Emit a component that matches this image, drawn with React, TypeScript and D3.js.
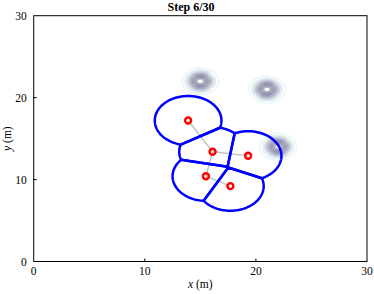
import { useRef, useEffect } from 'react';
import * as d3 from 'd3';

// agent positions (m)
const agentX = [13.9, 16.1, 19.3, 15.5, 17.7];
const agentY = [17.2, 13.4, 12.9, 10.4, 9.2];
// communication links between agents
const links: [number, number][] = [
  [0, 1],
  [1, 2],
  [1, 3],
  [3, 4],
];
// density peaks (m)
const peakX = [15, 21, 22];
const peakY = [22, 21, 14];
const peakSigma = 0.62;
const sensingRadius = 3;
const xTicks = [0, 10, 20, 30];
const yTicks = [0, 10, 20, 30];
const title = 'Step 6/30';

const W = 374;
const H = 294;
const serif = 'Liberation Serif, serif';

function clipCircleToCell(cx: number, cy: number, r: number, cell: [number, number][]) {
  let poly: [number, number][] = d3.range(180).map((k) => {
    const a = (k / 180) * Math.PI * 2;
    return [cx + r * Math.cos(a), cy + r * Math.sin(a)];
  });
  for (let e = 0; e < cell.length - 1; e++) {
    const a = cell[e];
    const b = cell[e + 1];
    const side = (p: [number, number]) => (b[0] - a[0]) * (p[1] - a[1]) - (b[1] - a[1]) * (p[0] - a[0]);
    const s0 = side([cx, cy]);
    const inside = (p: [number, number]) => side(p) * s0 >= 0;
    const out: [number, number][] = [];
    for (let i = 0; i < poly.length; i++) {
      const cur = poly[i];
      const prev = poly[(i + poly.length - 1) % poly.length];
      const ci = inside(cur);
      const pi = inside(prev);
      if (ci !== pi) {
        const sp = side(prev);
        const sc = side(cur);
        const t = sp / (sp - sc);
        out.push([prev[0] + t * (cur[0] - prev[0]), prev[1] + t * (cur[1] - prev[1])]);
      }
      if (ci) out.push(cur);
    }
    poly = out;
  }
  return poly;
}

export default function App() {
  const ref = useRef<SVGSVGElement>(null);

  useEffect(() => {
    document.body.style.margin = '0';
    const svg = d3.select(ref.current);
    svg.selectAll('*').remove();

    const x = d3.scaleLinear().domain([0, 30]).range([33.7, 367]);
    const y = d3.scaleLinear().domain([0, 30]).range([261.5, 15.7]);

    // frame
    svg
      .append('rect')
      .attr('x', x(0))
      .attr('y', y(30))
      .attr('width', x(30) - x(0))
      .attr('height', y(0) - y(30))
      .attr('fill', 'white')
      .attr('stroke', 'black')
      .attr('stroke-width', 1);

    // density contours
    const step = 0.05;
    const n = Math.round(30 / step) + 1;
    const values = new Array(n * n);
    for (let j = 0; j < n; j++) {
      for (let i = 0; i < n; i++) {
        const px = i * step;
        const py = j * step;
        let v = 0;
        for (let k = 0; k < peakX.length; k++) {
          const dx = px - peakX[k];
          const dy = py - peakY[k];
          v += Math.exp(-(dx * dx + dy * dy) / (2 * peakSigma * peakSigma));
        }
        values[j * n + i] = v;
      }
    }
    const levels = d3.range(0.03, 0.95, 0.055);
    const color = d3
      .scaleLinear<string>()
      .domain([0.03, 0.3, 0.6, 0.95])
      .range(['#d6f0f0', '#a8aac4', '#8a8aa8', '#9a9ab4']);
    const contours = d3.contours().size([n, n]).thresholds(levels)(values);
    const proj = d3.geoTransform({
      point(gx: number, gy: number) {
        this.stream.point(x((gx - 0.5) * step), y((gy - 0.5) * step));
      },
    });
    const cpath = d3.geoPath(proj);
    svg
      .append('g')
      .selectAll('path')
      .data(contours)
      .join('path')
      .attr('d', (d) => cpath(d as any))
      .attr('fill', 'none')
      .attr('stroke', (d) => color(d.value))
      .attr('stroke-width', 1);

    // links
    svg
      .append('g')
      .selectAll('line')
      .data(links)
      .join('line')
      .attr('x1', (d) => x(agentX[d[0]]))
      .attr('y1', (d) => y(agentY[d[0]]))
      .attr('x2', (d) => x(agentX[d[1]]))
      .attr('y2', (d) => y(agentY[d[1]]))
      .attr('stroke', '#c4c4c4')
      .attr('stroke-width', 1.5);

    // voronoi cells limited by sensing radius
    const pts = agentX.map((ax, i) => [ax, agentY[i]] as [number, number]);
    const vor = d3.Delaunay.from(pts).voronoi([0, 0, 30, 30]);
    const line = d3
      .line<[number, number]>()
      .x((d) => x(d[0]))
      .y((d) => y(d[1]))
      .curve(d3.curveLinearClosed);
    svg
      .append('g')
      .selectAll('path')
      .data(pts)
      .join('path')
      .attr('d', (p, i) => line(clipCircleToCell(p[0], p[1], sensingRadius, vor.cellPolygon(i) as any)))
      .attr('fill', 'none')
      .attr('stroke', '#0000ff')
      .attr('stroke-width', 2.5)
      .attr('stroke-linejoin', 'round');

    // agents
    svg
      .append('g')
      .selectAll('circle')
      .data(pts)
      .join('circle')
      .attr('cx', (d) => x(d[0]))
      .attr('cy', (d) => y(d[1]))
      .attr('r', 3)
      .attr('fill', 'none')
      .attr('stroke', '#ff0000')
      .attr('stroke-width', 2.4);

    // ticks
    const tg = svg.append('g').attr('stroke', 'black').attr('stroke-width', 1);
    xTicks.slice(1, -1).forEach((t) => {
      tg.append('line').attr('x1', x(t)).attr('x2', x(t)).attr('y1', y(0)).attr('y2', y(0) - 3);
    });
    yTicks.slice(1, -1).forEach((t) => {
      tg.append('line').attr('x1', x(0)).attr('x2', x(0) + 3).attr('y1', y(t)).attr('y2', y(t));
    });

    svg
      .append('g')
      .selectAll('text')
      .data(xTicks)
      .join('text')
      .attr('x', (d) => x(d))
      .attr('y', y(0) + 13)
      .attr('text-anchor', 'middle')
      .attr('font-family', serif)
      .attr('font-size', 11.5)
      .text((d) => d);

    svg
      .append('g')
      .selectAll('text')
      .data(yTicks)
      .join('text')
      .attr('x', x(0) - 7)
      .attr('y', (d) => y(d) + 4)
      .attr('text-anchor', 'end')
      .attr('font-family', serif)
      .attr('font-size', 11.5)
      .text((d) => d);

    // axis labels
    const xl = svg
      .append('text')
      .attr('x', (x(0) + x(30)) / 2)
      .attr('y', 288)
      .attr('text-anchor', 'middle')
      .attr('font-family', serif)
      .attr('font-size', 11.5);
    xl.append('tspan').attr('font-style', 'italic').text('x');
    xl.append('tspan').text(' (m)');

    const yl = svg
      .append('text')
      .attr('transform', `translate(11,${(y(0) + y(30)) / 2}) rotate(-90)`)
      .attr('text-anchor', 'middle')
      .attr('font-family', serif)
      .attr('font-size', 11.5);
    yl.append('tspan').attr('font-style', 'italic').text('y');
    yl.append('tspan').text(' (m)');

    svg
      .append('text')
      .attr('x', 191)
      .attr('y', 11)
      .attr('text-anchor', 'middle')
      .attr('font-family', serif)
      .attr('font-weight', 'bold')
      .attr('font-size', 12)
      .text(title);
  }, []);

  return <svg ref={ref} width={W} height={H} style={{ display: 'block', background: 'white' }} />;
}
